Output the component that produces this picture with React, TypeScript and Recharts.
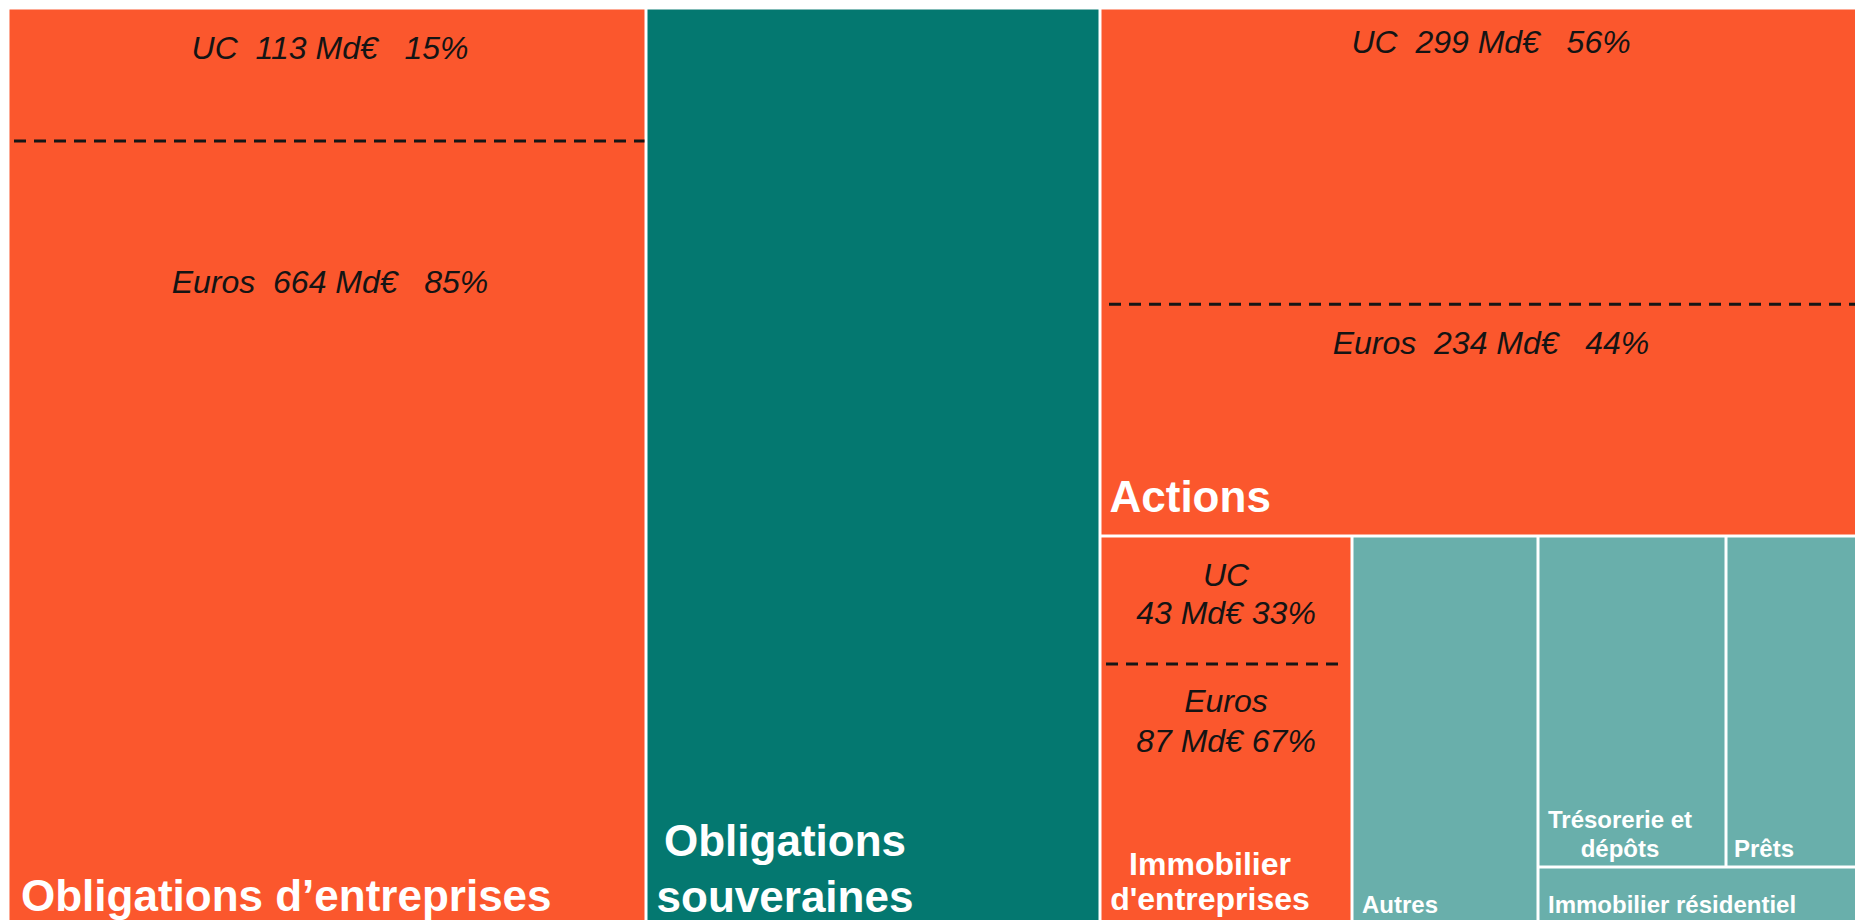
import React from 'react';
import { Treemap } from 'recharts';

// ---------- data ----------
const categories = [
  'Obligations d’entreprises',
  'Obligations souveraines',
  'Actions',
  "Immobilier d'entreprises",
  'Autres',
  'Trésorerie et dépôts',
  'Prêts',
  'Immobilier résidentiel',
];
const totals = [777, 553, 533, 130, 96, 83, 58, 24]; // Md€
const ucAmounts = [113, null, 299, 43, null, null, null, null];
const eurosAmounts = [664, null, 234, 87, null, null, null, null];
const ucShares = [15, null, 56, 33, null, null, null, null];
const eurosShares = [85, null, 44, 67, null, null, null, null];
const colorGroups = ['split', 'sovereign', 'split', 'split', 'other', 'other', 'other', 'other'];
// nesting of the blocks (indices into categories)
const nesting: any[] = [0, 1, [2, [3, [4, [5, 6, 7]]]]];

// ---------- styles ----------
const COLORS: Record<string, string> = {
  split: '#FB572D',
  sovereign: '#047870',
  other: '#69AFAB',
};
const BOLD_FONT = "'Liberation Sans', Arial, Helvetica, sans-serif";

type CellStyle = {
  nameSize: number;
  splitAt?: number;
  nameDx: number;
  nameCenter?: boolean;
  nameDys: number[];
  valueMode?: 'inline' | 'stacked';
  ucDys?: number[];
  eurosDys?: number[];
  valueDx?: number;
  dashInset?: [number, number];
};
const cellStyles: Record<number, CellStyle> = {
  0: { nameSize: 44, nameDx: 13, nameDys: [-12], valueMode: 'inline', ucDys: [51], eurosDys: [152], valueDx: 3, dashInset: [6, 1.5] },
  1: { nameSize: 44, splitAt: 1, nameCenter: true, nameDx: 139, nameDys: [-67, -11] },
  2: { nameSize: 44, nameDx: 9.5, nameDys: [-24], valueMode: 'inline', ucDys: [45], eurosDys: [50], valueDx: 12, dashInset: [9, 0] },
  3: { nameSize: 32, splitAt: 1, nameCenter: true, nameDx: 110, nameDys: [-48, -13], valueMode: 'stacked', ucDys: [50, 88], eurosDys: [48, 88], valueDx: 0, dashInset: [6, 11] },
  4: { nameSize: 24, nameDx: 10, nameDys: [-10] },
  5: { nameSize: 24, splitAt: 2, nameCenter: true, nameDx: 82, nameDys: [-39, -10] },
  6: { nameSize: 24, nameDx: 8, nameDys: [-10] },
  7: { nameSize: 24, nameDx: 10, nameDys: [-10] },
};

// ---------- build tree ----------
const build = (spec: any): any => {
  if (typeof spec === 'number') {
    return {
      name: categories[spec],
      value: totals[spec],
      idx: spec,
      uc: ucAmounts[spec],
      euros: eurosAmounts[spec],
      ucShare: ucShares[spec],
      eurosShare: eurosShares[spec],
      group: colorGroups[spec],
    };
  }
  return { name: '', children: spec.map(build) };
};
const treeData = nesting.map(build);

// ---------- cell renderer ----------
const renderCell = (props: any) => {
  const { x, y, width, height, idx } = props;
  if (idx === undefined || idx === null || typeof idx !== 'number') return <g />;
  const st = cellStyles[idx];
  const fill = COLORS[props.group];
  const words = String(props.name).split(' ');
  const lines = st.splitAt
    ? [words.slice(0, st.splitAt).join(' '), words.slice(st.splitAt).join(' ')]
    : [String(props.name)];
  const bottom = y + height;

  const els: any[] = [];
  els.push(
    <rect key="r" x={x + 1.5} y={y + 1.5} width={Math.max(0, width - 3)} height={Math.max(0, height - 3)} fill={fill} stroke="none" />
  );

  if (st.valueMode && props.uc != null && props.euros != null) {
    const share = props.uc / (props.uc + props.euros);
    const divY = y + height * share;
    const [il, ir] = st.dashInset || [0, 0];
    els.push(
      <line key="d" x1={x + il} x2={x + width - ir} y1={divY} y2={divY} stroke="#161616" strokeWidth={3} strokeDasharray="12 8" />
    );
    const cx = x + width / 2 + (st.valueDx || 0);
    const vStyle: any = { whiteSpace: 'pre' };
    const common = {
      textAnchor: 'middle' as const,
      fontFamily: BOLD_FONT,
      fontStyle: 'italic',
      fontSize: 32,
      fill: '#141414',
      stroke: 'none',
      style: vStyle,
    };
    if (st.valueMode === 'inline') {
      els.push(
        <text key="u" x={cx} y={y + st.ucDys![0]} {...common}>
          {`UC  ${props.uc} Md€   ${props.ucShare}%`}
        </text>
      );
      els.push(
        <text key="e" x={cx} y={divY + st.eurosDys![0]} {...common}>
          {`Euros  ${props.euros} Md€   ${props.eurosShare}%`}
        </text>
      );
    } else {
      els.push(<text key="u1" x={cx} y={y + st.ucDys![0]} {...common}>UC</text>);
      els.push(
        <text key="u2" x={cx} y={y + st.ucDys![1]} {...common}>{`${props.uc} Md€ ${props.ucShare}%`}</text>
      );
      els.push(<text key="e1" x={cx} y={divY + st.eurosDys![0]} {...common}>Euros</text>);
      els.push(
        <text key="e2" x={cx} y={divY + st.eurosDys![1]} {...common}>{`${props.euros} Md€ ${props.eurosShare}%`}</text>
      );
    }
  }

  lines.forEach((ln, i) => {
    els.push(
      <text
        key={'n' + i}
        x={x + st.nameDx}
        y={bottom + st.nameDys[i]}
        textAnchor={st.nameCenter ? 'middle' : 'start'}
        fontFamily={BOLD_FONT}
        fontWeight="bold"
        fontSize={st.nameSize}
        fill="#ffffff"
        stroke="none"
      >
        {ln}
      </text>
    );
  });

  return <g stroke="none">{els}</g>;
};

export default function App() {
  return (
    <div style={{ position: 'absolute', left: 8, top: 8, width: 1850, height: 915, overflow: 'visible' }}>
      <style>{'html{overflow:hidden;} body{margin:0;}'}</style>
      <Treemap
        width={1850}
        height={915}
        data={treeData}
        dataKey="value"
        nameKey="name"
        aspectRatio={1.28}
        isAnimationActive={false}
        stroke="none"
        fill="#ffffff"
        content={renderCell as any}
      />
    </div>
  );
}
